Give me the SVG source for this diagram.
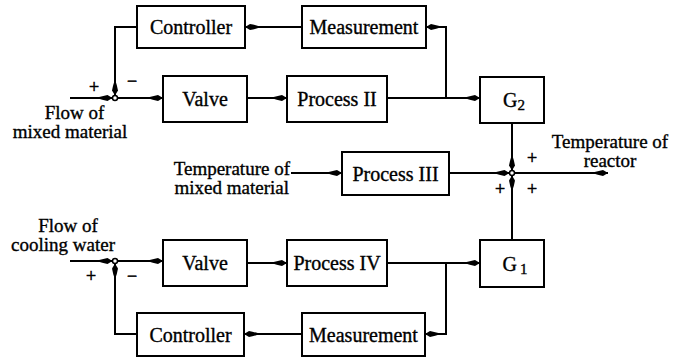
<svg xmlns="http://www.w3.org/2000/svg" width="677" height="359" viewBox="0 0 677 359">
<style>
.box{fill:#fff;stroke:#000;stroke-width:2}
.lbl{font-family:"Liberation Serif","Times New Roman",serif;font-size:20px;fill:#000;stroke:#000;stroke-width:0.35;text-anchor:middle}
.tl{font-size:19px}
.sgn{font-family:"Liberation Serif","Times New Roman",serif;font-size:18px;fill:#000;stroke:#000;stroke-width:0.5;text-anchor:middle}
.ln{fill:none;stroke:#000;stroke-width:2}
.arr{marker-end:url(#ah)}
.jn{fill:#fff;stroke:#000;stroke-width:1.5}
</style>
<defs>
<marker id="ah" viewBox="-17 -4 18 8" markerWidth="18" markerHeight="8" refX="0" refY="0" orient="auto" markerUnits="userSpaceOnUse">
<path d="M0,0 L-5,-3 Q-10,-2.2 -16,0 Q-10,2.2 -5,3 Z" fill="#000"/>
</marker>
</defs>
<rect width="677" height="359" fill="#fff"/>
<g id="connectors">
<path class="ln arr" d="M70,98 L112.5,98"/>
<path class="ln arr" d="M117.5,98 L163,98"/>
<path class="ln arr" d="M247,98 L287,98"/>
<path class="ln arr" d="M387,98 L480,98"/>
<path class="ln arr" d="M446,98 L446,27 L426,27"/>
<path class="ln arr" d="M302,27 L245,27"/>
<path class="ln arr" d="M137,27 L115,27 L115,95.5"/>
<path class="ln arr" d="M512,123 L512,170.5"/>
<path class="ln arr" d="M449,173 L509.5,173"/>
<path class="ln arr" d="M291,173 L342,173"/>
<path class="ln arr" d="M514.5,173 L608,173"/>
<path class="ln arr" d="M512,240 L512,175.5"/>
<path class="ln arr" d="M70,261 L112.5,261"/>
<path class="ln arr" d="M117.5,261 L163,261"/>
<path class="ln arr" d="M247,263 L287,263"/>
<path class="ln arr" d="M387,263 L480,263"/>
<path class="ln arr" d="M446,263 L446,334 L425,334"/>
<path class="ln arr" d="M302,334 L244,334"/>
<path class="ln arr" d="M137,334 L115,334 L115,263.5"/>
<circle class="jn" cx="115" cy="98" r="2.5"/>
<circle class="jn" cx="512" cy="173" r="2.5"/>
<circle class="jn" cx="115" cy="261" r="2.5"/>
</g>
<g id="controller1"><rect class="box" x="137" y="6" width="108" height="42"/><text class="lbl" x="191" y="34">Controller</text></g>
<g id="measurement1"><rect class="box" x="302" y="6" width="124" height="42"/><text class="lbl" x="364" y="34">Measurement</text></g>
<g id="valve1"><rect class="box" x="163" y="76" width="84" height="46"/><text class="lbl" x="205" y="106">Valve</text></g>
<g id="process2"><rect class="box" x="287" y="76" width="100" height="46"/><text class="lbl" x="337" y="106">Process II</text></g>
<g id="g2"><rect class="box" x="480" y="77" width="64" height="46"/><text class="lbl" x="514" y="107">G<tspan font-size="15" dy="3">2</tspan></text></g>
<g id="process3"><rect class="box" x="342" y="152" width="107" height="43"/><text class="lbl" x="395.5" y="181">Process III</text></g>
<g id="valve2"><rect class="box" x="163" y="240" width="84" height="46"/><text class="lbl" x="205" y="270">Valve</text></g>
<g id="process4"><rect class="box" x="287" y="240" width="100" height="46"/><text class="lbl" x="337" y="270">Process IV</text></g>
<g id="g1"><rect class="box" x="480" y="240" width="64" height="47"/><text class="lbl" x="515" y="271">G<tspan font-size="15" dx="3" dy="3">1</tspan></text></g>
<g id="controller2"><rect class="box" x="137" y="313" width="107" height="43"/><text class="lbl" x="190.5" y="342">Controller</text></g>
<g id="measurement2"><rect class="box" x="302" y="313" width="123" height="43"/><text class="lbl" x="363.5" y="342">Measurement</text></g>
<g id="labels">
<text class="lbl tl" x="74.5" y="119">Flow of</text>
<text class="lbl tl" x="70" y="138">mixed material</text>
<text class="lbl tl" x="68" y="232">Flow of</text>
<text class="lbl tl" x="63" y="251">cooling water</text>
<text class="lbl tl" x="290" y="175" style="text-anchor:end">Temperature of</text>
<text class="lbl tl" x="289" y="194" style="text-anchor:end">mixed material</text>
<text class="lbl tl" x="610" y="148">Temperature of</text>
<text class="lbl tl" x="610" y="167">reactor</text>
<text class="sgn" x="94" y="93">+</text>
<text class="sgn" x="132" y="87">−</text>
<text class="sgn" x="532" y="164">+</text>
<text class="sgn" x="500" y="195">+</text>
<text class="sgn" x="532" y="195">+</text>
<text class="sgn" x="91" y="282">+</text>
<text class="sgn" x="132" y="282">−</text>
</g>
</svg>
